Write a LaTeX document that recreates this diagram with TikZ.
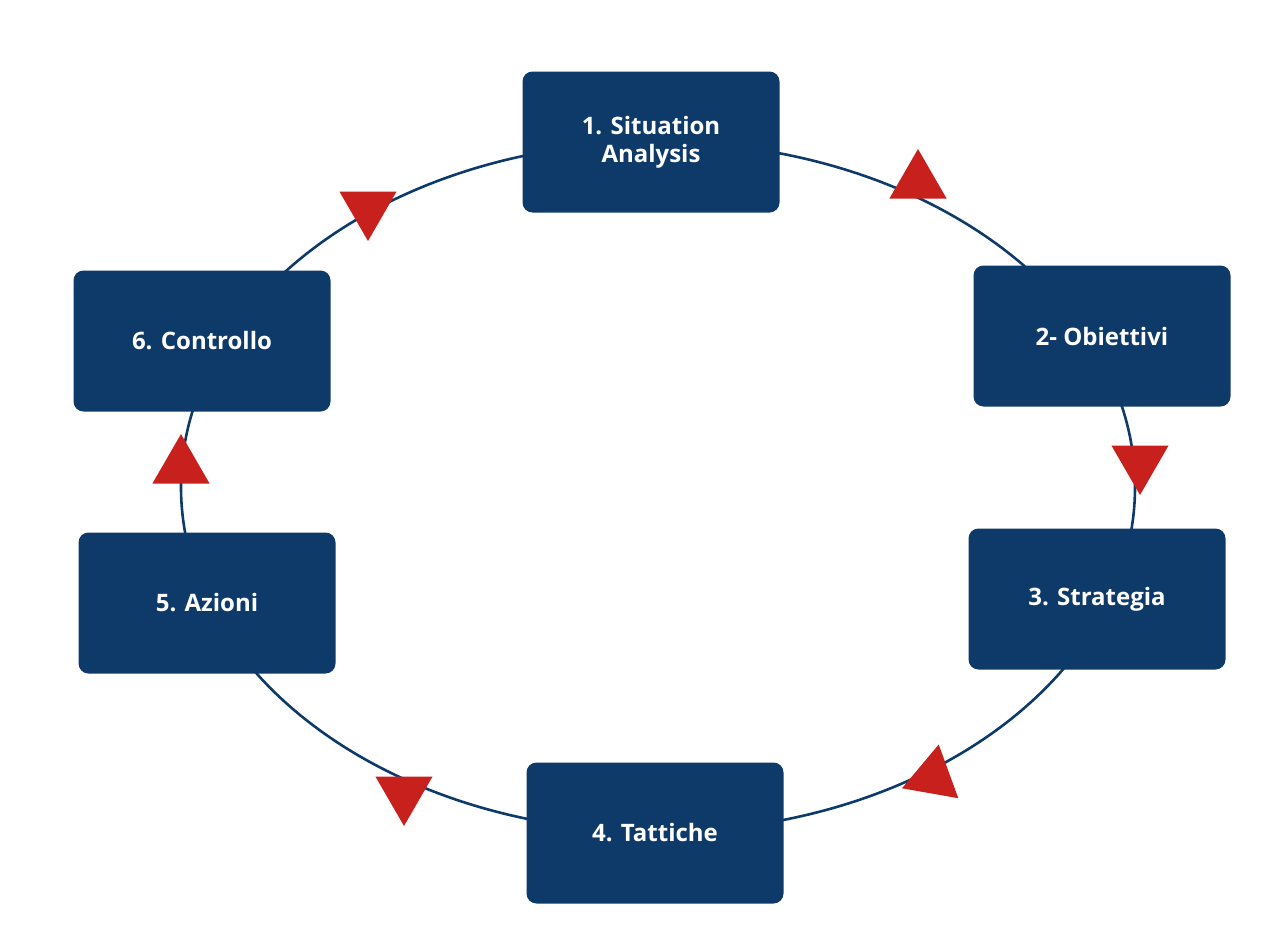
\documentclass[tikz,border=0pt]{standalone}
\usepackage{fontspec}
\setmainfont{Open Sans}
\usetikzlibrary{shapes.geometric}
\definecolor{navy}{HTML}{0E3A6A}
\definecolor{red}{HTML}{C8201C}
\begin{document}
\begin{tikzpicture}[x=0.5pt,y=-0.5pt,
 box/.style={fill=navy,rounded corners=5pt,minimum width=128.5pt,minimum height=70.5pt,text=white,font=\bfseries\fontsize{12}{14}\selectfont,align=center,inner sep=0pt},
 tri/.style={regular polygon,regular polygon sides=3,fill=red,minimum size=33pt,inner sep=0pt}]
\useasboundingbox (0,0) rectangle (1280,926);
\draw[navy,line width=1.3pt] (658,487) ellipse [x radius=477, y radius=345];
\node[box] (n1) at (651,142) {1. Situation\\Analysis};
\node[box] (n2) at (1102,336) {2- Obiettivi};
\node[box] (n3) at (1097,599) {3. Strategia};
\node[box] (n4) at (655,833) {4. Tattiche};
\node[box] (n5) at (207,603) {5. Azioni};
\node[box] (n6) at (202,341) {6. Controllo};
\node[tri] (t1) at (918,182) {};
\node[tri,rotate=180] (t2) at (1140,462) {};
\node[tri,rotate=-10] (t3) at (933,777) {};
\node[tri,rotate=180] (t4) at (404,793) {};
\node[tri] (t5) at (181,467) {};
\node[tri,rotate=180] (t6) at (368,208) {};
\end{tikzpicture}
\end{document}
